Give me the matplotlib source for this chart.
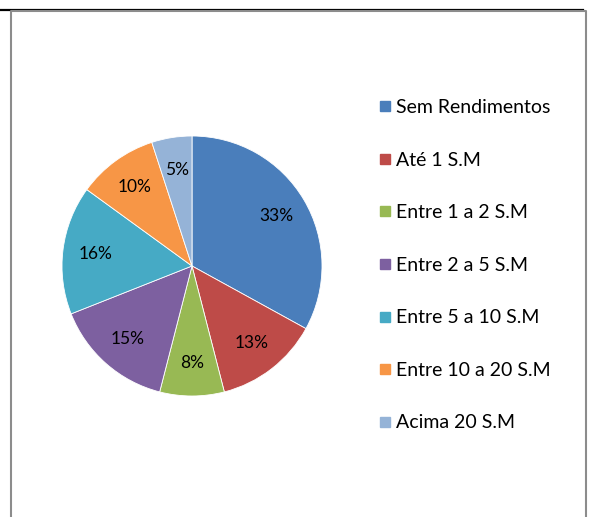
import matplotlib.pyplot as plt
from matplotlib.lines import Line2D

plt.rcParams['font.family'] = ['Lato', 'DejaVu Sans']

categories = ['Sem Rendimentos', 'Até 1 S.M', 'Entre 1 a 2 S.M', 'Entre 2 a 5 S.M',
              'Entre 5 a 10 S.M', 'Entre 10 a 20 S.M', 'Acima 20 S.M']
shares = [33, 13, 8, 15, 16, 10, 5]
colors = ['#4A7EBB', '#BE4B48', '#98B954', '#7D60A0', '#46AAC5', '#F79646', '#95B3D7']

W, H = 589, 517
fig = plt.figure(figsize=(W / 100, H / 100), dpi=100)

# pie area
ax = fig.add_axes([62 / W, (H - 396) / H, 260 / W, 260 / H])
wedges, texts, autotexts = ax.pie(shares, colors=colors, startangle=90, counterclock=False,
                                  autopct='%d%%', pctdistance=0.75, radius=1,
                                  wedgeprops=dict(edgecolor='white', linewidth=0.6),
                                  textprops=dict(fontsize=12.5, color='black'))
ax.set_xlim(-1, 1)
ax.set_ylim(-1, 1)
ax.set_aspect('equal')

# legend
handles = [Line2D([], [], marker='s', linestyle='none', markersize=7.5,
                  markerfacecolor=c, markeredgecolor=c) for c in colors]
fig.legend(handles, categories, loc='upper left', bbox_to_anchor=(379 / W, 1 - 99 / H),
           frameon=False, fontsize=14, labelspacing=1.83, handlelength=0.6,
           handletextpad=0.25, borderpad=0, borderaxespad=0)

# frame lines
fig.add_artist(Line2D([0, 583 / W], [1 - 9.5 / H, 1 - 9.5 / H], color='black', linewidth=1.6))
fig.add_artist(Line2D([11 / W, 11 / W, 586 / W, 586 / W], [0, 1 - 11 / H, 1 - 11 / H, 0],
                      color='#8c8c8c', linewidth=1.5))

fig.savefig('out.png', dpi=100)
